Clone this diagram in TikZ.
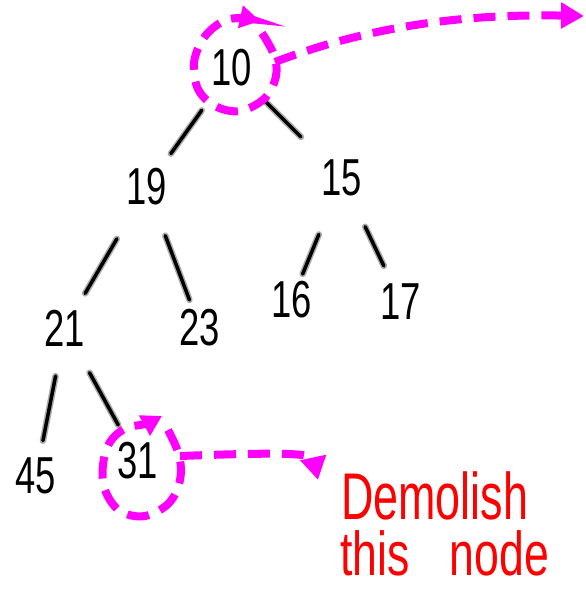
\documentclass[tikz,border=0pt]{standalone}
\usepackage{fontspec}
\setmainfont{Liberation Sans}
\usetikzlibrary{arrows.meta}
\definecolor{mag}{HTML}{FF00FF}
\newcommand\hnum[1]{\scalebox{0.7}[1]{#1}}
\begin{document}
\begin{tikzpicture}[x=1pt,y=-1pt,
  num/.style={inner sep=0pt, text=black, font=\fontsize{52}{52}\selectfont},
  note/.style={inner sep=0pt, anchor=base west, text=red},
  edge/.style={line width=3.5pt, line cap=round, draw=black, preaction={draw=gray!65, line width=6.5pt, line cap=round}},
  mdash/.style={draw=mag, line width=8pt, dash pattern=on 22pt off 12pt},
  mtip/.style={-{Triangle[length=23pt,width=25pt]}},
  stip/.style={-{Triangle[length=20pt,width=22pt]}},
]
\useasboundingbox (0,0) rectangle (586,590);
% nodes
\node[num] (n10) at (232,68) {\hnum{10}};
\node[num] (n19) at (147,187) {\hnum{19}};
\node[num] (n15) at (342,178) {\hnum{15}};
\node[num] (n21) at (65,328) {\hnum{21}};
\node[num] (n23) at (200,328) {\hnum{23}};
\node[num] (n16) at (292,300) {\hnum{16}};
\node[num] (n17) at (401,302) {\hnum{17}};
\node[num] (n45) at (36,476) {\hnum{45}};
\node[num] (n31) at (138,461) {\hnum{31}};
% edges
\draw[edge, shorten <=52pt, shorten >=41pt] (n10.center) -- (n19.center);
\draw[edge, shorten <=47pt, shorten >=58pt] (n10.center) -- (n15.center);
\draw[edge, shorten <=60pt, shorten >=40pt] (n19.center) -- (n21.center);
\draw[edge, shorten <=52pt, shorten >=30pt] (n19.center) -- (n23.center);
\draw[edge, shorten <=61pt, shorten >=28pt] (n15.center) -- (n16.center);
\draw[edge, shorten <=54pt, shorten >=40pt] (n15.center) -- (n17.center);
\draw[edge, shorten <=49pt, shorten >=36pt] (n21.center) -- (n45.center);
\draw[edge, shorten <=51pt, shorten >=41pt] (n21.center) -- (n31.center);
% highlight around 10
\draw[mdash, stip] plot[smooth, tension=0.6] coordinates {(262,33) (274,55) (276,76) (265,98) (240,111) (215,106) (198,89) (194,63) (203,39) (220,23) (238,18) (260,21)};
\coordinate (s10) at (275,62);
\coordinate (e10) at (584,16);
\draw[mdash, mtip] (s10) .. controls (380,22) and (480,14) .. (e10);
% highlight around 31
\draw[mdash, stip] plot[smooth, tension=0.6] coordinates {(168,430) (179,455) (180,480) (169,503) (145,516) (120,511) (105,490) (103,465) (110,442) (126,428) (145,424) (162,416)};
\coordinate (s31) at (180,456);
\coordinate (e31) at (318,480);
\draw[mdash, mtip] (s31) .. controls (260,453) and (312,452) .. (e31);
% note
\node[note, font=\fontsize{66}{66}\selectfont] (t1) at (341,519) {\scalebox{0.68}[1]{Demolish}};
\node[note, font=\fontsize{62}{62}\selectfont] (t2) at (340,575) {\scalebox{0.72}[1]{this\hspace{56pt}node}};
\end{tikzpicture}
\end{document}
